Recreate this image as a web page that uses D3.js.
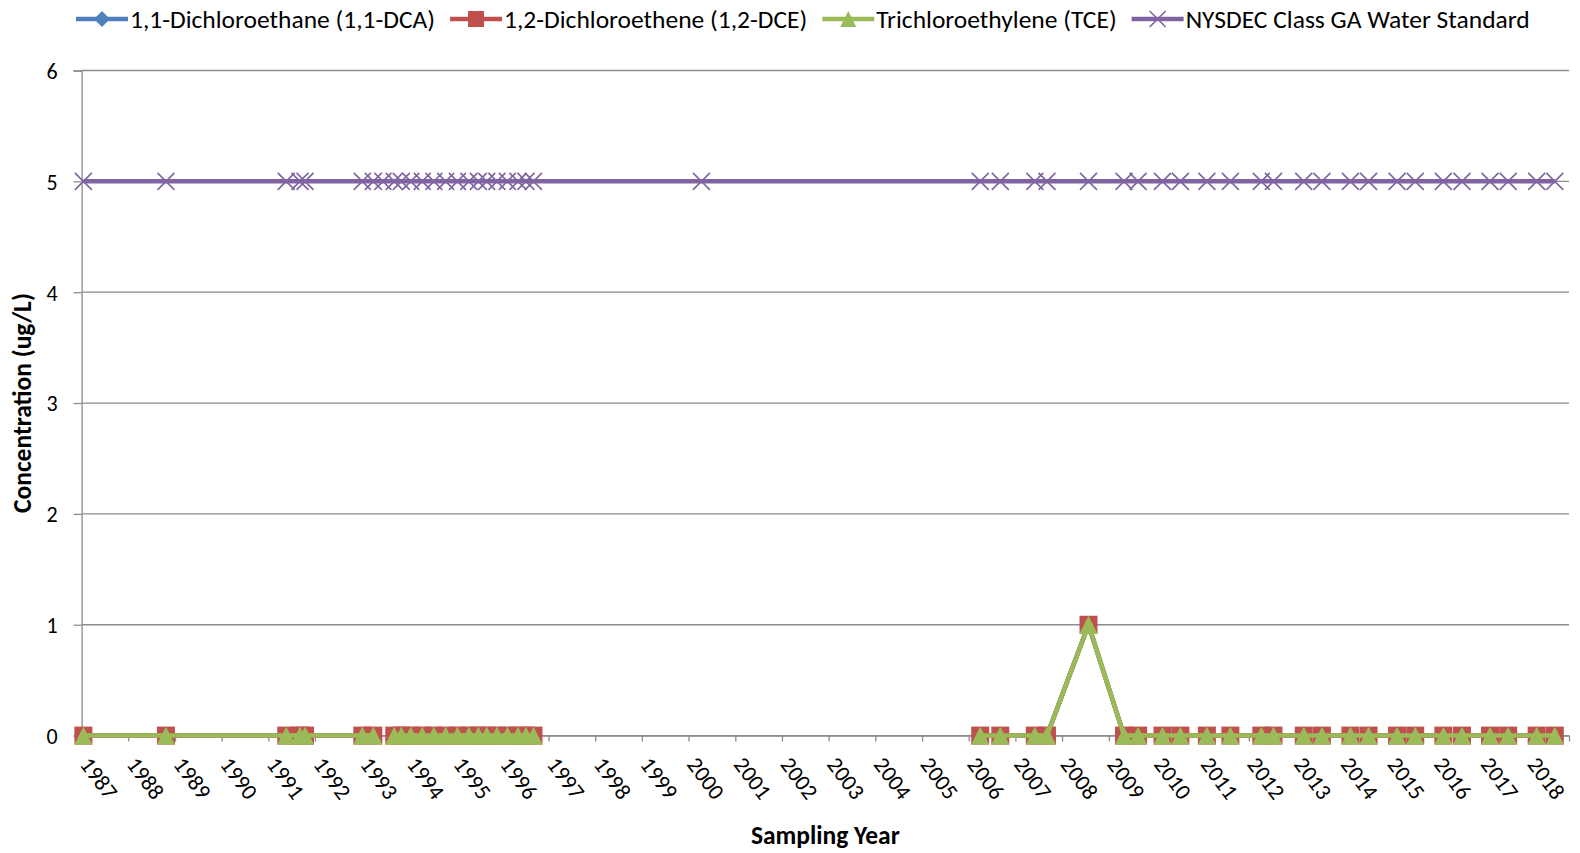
<!DOCTYPE html>
<html>
<head>
<meta charset="utf-8">
<script src="https://cdn.jsdelivr.net/npm/d3@7"></script>
<style>
    body { margin: 0; background: #fff; }
    svg text { font-family: Carlito, Calibri, 'Open Sans', sans-serif; fill: #000; }
</style>
</head>
<body>
<svg id="chart" width="1580" height="853"></svg>
<script>
// sampling dates
const dates = [
    '1987-01-15', '1988-10-22', '1991-05-21', '1991-09-05', '1991-10-15',
    '1993-01-05', '1993-04-01', '1993-06-15', '1993-09-12', '1993-11-06',
    '1994-01-19', '1994-04-19', '1994-07-19', '1994-10-19', '1995-01-19',
    '1995-04-19', '1995-07-02', '1995-09-05', '1995-11-24', '1996-02-14',
    '1996-05-07', '1996-07-08', '1996-09-05', '2000-04-11', '2006-04-01',
    '2006-09-05', '2007-06-02', '2007-09-05', '2008-07-26', '2009-04-30',
    '2009-08-18', '2010-02-25', '2010-07-15', '2011-02-07', '2011-08-10',
    '2012-04-08', '2012-07-12', '2013-03-06', '2013-07-26', '2014-03-06',
    '2014-07-26', '2015-03-06', '2015-07-26', '2016-03-02', '2016-07-26',
    '2017-03-02', '2017-07-22', '2018-03-02', '2018-07-22'
];

// concentrations (ug/L), null = not sampled
const dca = [
    0, 0, 0, 0, 0,
    0, 0, null, 0, 0,
    0, 0, 0, 0, 0,
    0, 0, 0, 0, 0,
    0, 0, 0, null, 0,
    0, 0, 0, 1, 0,
    0, 0, 0, 0, 0,
    0, 0, 0, 0, 0,
    0, 0, 0, 0, 0,
    0, 0, 0, 0
];
const dce = [
    0, 0, 0, 0, 0,
    0, 0, null, 0, 0,
    0, 0, 0, 0, 0,
    0, 0, 0, 0, 0,
    0, 0, 0, null, 0,
    0, 0, 0, 1, 0,
    0, 0, 0, 0, 0,
    0, 0, 0, 0, 0,
    0, 0, 0, 0, 0,
    0, 0, 0, 0
];
const tce = [
    0, 0, 0, 0, 0,
    0, 0, null, 0, 0,
    0, 0, 0, 0, 0,
    0, 0, 0, 0, 0,
    0, 0, 0, null, 0,
    0, 0, 0, 1, 0,
    0, 0, 0, 0, 0,
    0, 0, 0, 0, 0,
    0, 0, 0, 0, 0,
    0, 0, 0, 0
];
const standard = dates.map(() => 5);

const seriesNames = [
    '1,1-Dichloroethane (1,1-DCA)',
    '1,2-Dichloroethene (1,2-DCE)',
    'Trichloroethylene (TCE)',
    'NYSDEC Class GA Water Standard'
];
const seriesColors = ['#4f81bd', '#c0504d', '#9bbb59', '#8064a2'];
const seriesMarkers = ['diamond', 'square', 'triangle', 'x'];

const yTicks = [0, 1, 2, 3, 4, 5, 6];
const yearTicks = d3.range(1987, 2019);
const axisStart = '1987-01-01';
const axisEnd = '2018-11-10';

const parse = d3.timeParse('%Y-%m-%d');

const series = [dca, dce, tce, standard].map((vals, i) => {
    return {
        name: seriesNames[i],
        color: seriesColors[i],
        marker: seriesMarkers[i],
        values: dates.map((d, j) => { return {date: parse(d), value: vals[j]} })
    };
});

const margin = {top: 70.5, right: 11, bottom: 117.4, left: 81.6};
const width = 1580 - margin.left - margin.right;
const height = 853 - margin.top - margin.bottom;

const x = d3.scaleTime()
    .domain([parse(axisStart), parse(axisEnd)])
    .range([0, width]);
const y = d3.scaleLinear()
    .domain([0, 6])
    .range([height, 0]);

const svg = d3.select('#chart');
const g = svg.append('g')
    .attr('transform', 'translate(' + margin.left + ',' + margin.top + ')');

// gridlines
g.append('g')
    .selectAll('line')
    .data(yTicks)
    .enter()
    .append('line')
    .attr('x1', 0)
    .attr('x2', width)
    .attr('y1', (d) => y(d))
    .attr('y2', (d) => y(d))
    .attr('stroke', '#8c8c8c')
    .attr('stroke-width', 1.3);

// y axis
const yAxis = g.append('g')
    .call(d3.axisLeft(y).tickValues(yTicks).tickSize(8).tickPadding(16).tickFormat(d3.format('d')));
yAxis.select('.domain').attr('stroke', '#8c8c8c').attr('stroke-width', 1.3);
yAxis.selectAll('.tick line').attr('stroke', '#8c8c8c').attr('stroke-width', 1.3);
yAxis.selectAll('.tick text')
    .style('font-size', '22px')
    .attr('dy', '0.36em');

// x axis
const xAxis = g.append('g')
    .attr('transform', 'translate(0,' + height + ')')
    .call(d3.axisBottom(x)
        .tickValues(yearTicks.map((yr) => parse(yr + '-01-01')))
        .tickSize(6)
        .tickFormat(d3.timeFormat('%Y')));
xAxis.select('.domain').attr('stroke', '#8c8c8c').attr('stroke-width', 1.3);
xAxis.selectAll('.tick line').attr('stroke', '#8c8c8c').attr('stroke-width', 1.3);
xAxis.selectAll('.tick text')
    .style('font-size', '22.5px')
    .attr('text-anchor', 'start')
    .attr('y', 0)
    .attr('dy', 0)
    .attr('transform', 'translate(-3,29) rotate(53)');

// marker shapes
const markerPath = function markerPath(type, s) {
    if (type === 'diamond') {
        return 'M0,' + (-s) + 'L' + s + ',0L0,' + s + 'L' + (-s) + ',0Z';
    }
    if (type === 'square') {
        return 'M' + (-s) + ',' + (-s) + 'H' + s + 'V' + s + 'H' + (-s) + 'Z';
    }
    if (type === 'triangle') {
        return 'M0,' + (-s) + 'L' + s + ',' + s + 'L' + (-s) + ',' + s + 'Z';
    }
    return 'M' + (-s) + ',' + (-s) + 'L' + s + ',' + s + 'M' + (-s) + ',' + s + 'L' + s + ',' + (-s);
};

const line = d3.line()
    .defined((d) => d.value !== null)
    .x((d) => x(d.date))
    .y((d) => y(d.value));

series.forEach((s) => {
    const sg = g.append('g').attr('class', 'series');
    sg.append('path')
        .attr('d', line(s.values))
        .attr('fill', 'none')
        .attr('stroke', s.color)
        .attr('stroke-width', 4.5)
        .attr('stroke-linejoin', 'round');
    sg.selectAll('.marker')
        .data(s.values.filter((d) => d.value !== null))
        .enter()
        .append('path')
        .attr('class', 'marker')
        .attr('transform', (d) => 'translate(' + x(d.date) + ',' + y(d.value) + ')')
        .attr('d', markerPath(s.marker, s.marker === 'x' ? 8.5 : 9))
        .attr('fill', s.marker === 'x' ? 'none' : s.color)
        .attr('stroke', s.marker === 'x' ? s.color : 'none')
        .attr('stroke-width', 1.6);
});

// axis titles
svg.append('text')
    .attr('x', margin.left + width / 2)
    .attr('y', 838)
    .attr('text-anchor', 'middle')
    .attr('dominant-baseline', 'middle')
    .style('font-size', '25.5px')
    .style('font-weight', 'bold')
    .text('Sampling Year');

svg.append('text')
    .attr('transform', 'translate(25,' + (margin.top + y(3)) + ') rotate(-90)')
    .attr('text-anchor', 'middle')
    .attr('dominant-baseline', 'middle')
    .style('font-size', '25.5px')
    .style('font-weight', 'bold')
    .text('Concentration (ug/L)');

// legend
const legend = svg.append('g').attr('transform', 'translate(76,19)');
let lx = 0;
series.forEach((s) => {
    const item = legend.append('g').attr('transform', 'translate(' + lx + ',0)');
    item.append('line')
        .attr('x1', 0)
        .attr('x2', 52)
        .attr('stroke', s.color)
        .attr('stroke-width', 4.5);
    item.append('path')
        .attr('transform', 'translate(26,0)')
        .attr('d', markerPath(s.marker, 8))
        .attr('fill', s.marker === 'x' ? 'none' : s.color)
        .attr('stroke', s.marker === 'x' ? s.color : 'none')
        .attr('stroke-width', 1.6);
    const t = item.append('text')
        .attr('x', 54)
        .attr('dy', '0.35em')
        .style('font-size', '25.5px')
        .text(s.name);
    lx += 54 + t.node().getComputedTextLength() + 15;
});
</script>
</body>
</html>
